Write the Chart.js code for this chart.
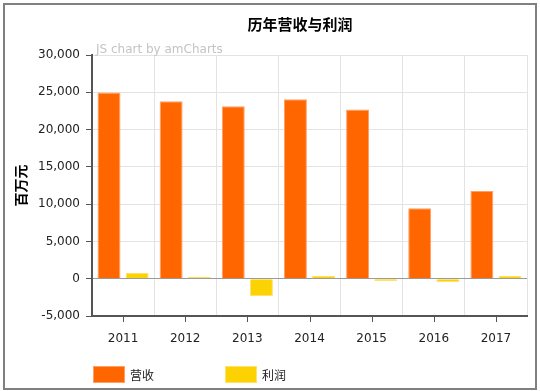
<!DOCTYPE html>
<html>
<head>
<meta charset="utf-8">
<script src="https://cdn.jsdelivr.net/npm/chart.js@4.4.1/dist/chart.umd.min.js"></script>
<style>
  html, body { margin: 0; padding: 0; background: #fff; }
  #wrap { width: 540px; height: 391px; }
</style>
</head>
<body>
<div id="wrap"><canvas id="chart" width="540" height="391"></canvas></div>
<script>
// chart data
const years = ['2011', '2012', '2013', '2014', '2015', '2016', '2017'];
const revenue = [24980, 23800, 23130, 24060, 22700, 9450, 11750];
const profit = [760, 230, -2320, 360, -310, -440, 360];
const seriesNames = ['营收', '利润'];
const yTicks = [-5000, 0, 5000, 10000, 15000, 20000, 25000, 30000];

const titleText = '历年营收与利润';
const yTitle = '百万元';
const credit = 'JS chart by amCharts';

const cjk = '"Noto Sans CJK SC", "DejaVu Sans", sans-serif';
const latin = '"DejaVu Sans", Verdana, sans-serif';

// title, watermark, frame, legend and centred tick marks
const decorations = {
  id: 'decorations',
  beforeDraw(chart) {
    const ctx = chart.ctx;
    ctx.save();
    ctx.fillStyle = '#fff';
    ctx.fillRect(0, 0, chart.width, chart.height);
    ctx.restore();
  },
  afterDraw(chart) {
    const ctx = chart.ctx;
    const area = chart.chartArea;
    ctx.save();

    // frame
    ctx.strokeStyle = '#808080';
    ctx.lineWidth = 2;
    ctx.strokeRect(4, 4, 532, 385);

    // title
    ctx.fillStyle = '#000';
    ctx.font = 'bold 15px ' + cjk;
    ctx.textAlign = 'center';
    ctx.textBaseline = 'middle';
    ctx.fillText(titleText, 300, 24);

    // watermark
    ctx.fillStyle = '#c4c4c4';
    ctx.font = '12px ' + latin;
    ctx.textAlign = 'left';
    ctx.fillText(credit, 96, 50);

    // tick marks under category centres
    const xs = chart.scales.x;
    ctx.strokeStyle = '#555';
    ctx.lineWidth = 1;
    years.forEach((y, i) => {
      const px = Math.round(xs.getPixelForValue(i)) + 0.5;
      ctx.beginPath();
      ctx.moveTo(px, area.bottom);
      ctx.lineTo(px, area.bottom + 6);
      ctx.stroke();
    });

    // legend
    const legendX = [93, 225];
    chart.data.datasets.forEach((ds, i) => {
      const x = legendX[i];
      ctx.fillStyle = ds.backgroundColor;
      ctx.fillRect(x, 366, 32, 17);
      ctx.strokeStyle = ds.borderColor;
      ctx.strokeRect(x + 0.5, 366.5, 31, 16);
      ctx.fillStyle = '#222';
      ctx.font = '12px ' + cjk;
      ctx.textAlign = 'left';
      ctx.textBaseline = 'middle';
      ctx.fillText(ds.label, x + 37, 375);
    });
    ctx.restore();
  }
};

new Chart(document.getElementById('chart'), {
  type: 'bar',
  data: {
    labels: years,
    datasets: [{
      label: seriesNames[0],
      data: revenue,
      backgroundColor: '#FF6600',
      borderColor: '#FF9E66',
      borderWidth: 1,
      categoryPercentage: 0.906,
      barPercentage: 0.815
    }, {
      label: seriesNames[1],
      data: profit,
      backgroundColor: '#FCD202',
      borderColor: '#FDE36A',
      borderWidth: 1,
      categoryPercentage: 0.906,
      barPercentage: 0.815
    }]
  },
  options: {
    responsive: false,
    animation: false,
    devicePixelRatio: 1,
    layout: { padding: { top: 55, right: 13, bottom: 0, left: 0 } },
    plugins: {
      legend: { display: false },
      title: { display: false },
      tooltip: { enabled: false }
    },
    scales: {
      x: {
        grid: {
          color: '#e3e3e3',
          drawTicks: false
        },
        border: { color: '#555', width: 2 },
        ticks: {
          color: '#222',
          font: { family: latin, size: 12 },
          padding: 16,
          maxRotation: 0
        },
        afterFit(scale) { scale.height = 75; }
      },
      y: {
        min: -5000,
        max: 30000,
        afterBuildTicks(scale) {
          scale.ticks = yTicks.map(v => ({ value: v }));
        },
        grid: {
          color: ctx => ctx.tick && ctx.tick.value === 0 ? '#9a9a9a' : '#e3e3e3',
          tickColor: '#555',
          tickLength: 6
        },
        border: { color: '#555', width: 2 },
        ticks: {
          color: '#222',
          font: { family: latin, size: 12 },
          padding: 6,
          callback: v => v.toLocaleString('en-US')
        },
        title: {
          display: true,
          text: yTitle,
          color: '#000',
          font: { family: cjk, size: 14, weight: 'bold' },
          padding: { top: 12, bottom: 0 }
        },
        afterFit(scale) { scale.width = 92; }
      }
    }
  },
  plugins: [decorations]
});
</script>
</body>
</html>
